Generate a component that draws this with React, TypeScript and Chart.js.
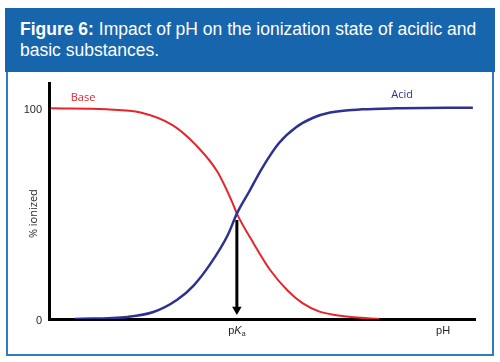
import React, { useEffect, useRef } from "react";
import { Chart, registerables } from "chart.js";

Chart.register(...registerables);

// ---- data ----
const basePH = [0.05, 1.35, 2.15, 2.9, 3.45, 3.95, 4.3, 4.41, 4.8, 5.2, 5.6, 5.95, 6.35, 6.75, 7.15, 7.75];
const baseIonized = [100, 99.5, 98, 92, 82.5, 70, 55.5, 50, 36, 23, 13.5, 7.5, 3.5, 1.8, 0.8, 0];
const acidPH = [0.6, 1.85, 2.45, 3.0, 3.4, 3.8, 4.2, 4.41, 4.7, 5.0, 5.4, 5.8, 6.2, 6.6, 7.35, 8.15, 9.95];
const acidIonized = [0, 1, 3.3, 9, 16, 26.5, 40, 50, 60.5, 71.5, 83.5, 91, 95.5, 98, 99.5, 100, 100.3];
const pKa = 4.41;
const arrowIonized = [47, 4.5];
const yTickValues = [0, 100];
const xTickLabels = [
  { value: pKa, text: "pKa" },
  { value: 9.25, text: "pH" },
];
const seriesLabels = [
  { text: "Base", x: 0.8, y: 105, color: "#e3262b" },
  { text: "Acid", x: 8.29, y: 106.6, color: "#2e3192" },
];

const RED = "#e8232a";
const NAVY = "#2e3192";

const annotations = {
  id: "annotations",
  afterDraw(chart: any) {
    const { ctx, scales, chartArea } = chart;
    const xs = scales.x;
    const ys = scales.y;
    ctx.save();
    ctx.textBaseline = "middle";
    ctx.textAlign = "center";
    ctx.font = "11px 'Open Sans', sans-serif";
    for (const l of seriesLabels) {
      ctx.fillStyle = l.color;
      ctx.fillText(l.text, xs.getPixelForValue(l.x), ys.getPixelForValue(l.y));
    }
    // y title
    ctx.save();
    ctx.translate(chartArea.left - 15, ys.getPixelForValue(50));
    ctx.rotate(-Math.PI / 2);
    ctx.fillStyle = "#231f20";
    ctx.font = "11px 'Open Sans', sans-serif";
    ctx.fillText("% ionized", 0, 0);
    ctx.restore();
    // x labels
    const ty = chartArea.bottom + 12;
    ctx.fillStyle = "#231f20";
    for (const t of xTickLabels) {
      const px = xs.getPixelForValue(t.value);
      if (t.text === "pKa") {
        ctx.textAlign = "left";
        ctx.font = "11px 'Liberation Sans', Arial, sans-serif";
        const wp = ctx.measureText("p").width;
        ctx.font = "italic 11px 'Liberation Sans', Arial, sans-serif";
        const wk = ctx.measureText("K").width;
        ctx.font = "7px 'Liberation Sans', Arial, sans-serif";
        const wa = ctx.measureText("a").width;
        let x0 = px - (wp + wk + wa) / 2;
        ctx.font = "11px 'Liberation Sans', Arial, sans-serif";
        ctx.fillText("p", x0, ty);
        x0 += wp;
        ctx.font = "italic 11px 'Liberation Sans', Arial, sans-serif";
        ctx.fillText("K", x0, ty);
        x0 += wk;
        ctx.font = "7px 'Liberation Sans', Arial, sans-serif";
        ctx.fillText("a", x0, ty + 3);
        ctx.textAlign = "center";
      } else {
        ctx.font = "11px 'Liberation Sans', Arial, sans-serif";
        ctx.fillText(t.text, px, ty);
      }
    }
    ctx.restore();
  },
};

function ChartView() {
  const ref = useRef<HTMLCanvasElement | null>(null);
  useEffect(() => {
    if (!ref.current) return;
    const chart = new Chart(ref.current, {
      type: "line",
      data: {
        datasets: [
          {
            label: "arrow",
            data: arrowIonized.map((v) => ({ x: pKa, y: v })),
            borderColor: "#000",
            backgroundColor: "#000",
            borderWidth: 3,
            pointRadius: [0, 5.5],
            pointStyle: "triangle",
            pointRotation: 180,
            pointBorderWidth: 0,
            pointBackgroundColor: "#000",
          },
          {
            label: "Acid",
            data: acidPH.map((x, i) => ({ x, y: acidIonized[i] })),
            borderColor: NAVY,
            borderWidth: 2.5,
            pointRadius: 0,
            cubicInterpolationMode: "monotone",
          },
          {
            label: "Base",
            data: basePH.map((x, i) => ({ x, y: baseIonized[i] })),
            borderColor: RED,
            borderWidth: 2,
            pointRadius: 0,
            cubicInterpolationMode: "monotone",
          },
        ],
      },
      options: {
        animation: false,
        responsive: true,
        maintainAspectRatio: false,
        layout: { padding: { left: 0, top: 83, right: 25, bottom: 0 } },
        plugins: { legend: { display: false }, tooltip: { enabled: false } },
        scales: {
          x: {
            type: "linear",
            min: 0,
            max: 10,
            grid: { display: false, drawTicks: false },
            border: { display: true, color: "#000", width: 3 },
            ticks: { display: false },
            afterFit: (s: any) => {
              s.height = 43;
            },
          },
          y: {
            type: "linear",
            min: 0,
            max: 112,
            grid: { display: false, drawTicks: false },
            border: { display: true, color: "#000", width: 3 },
            afterBuildTicks: (s: any) => {
              s.ticks = yTickValues.map((v) => ({ value: v }));
            },
            ticks: {
              padding: 7,
              labelOffset: 1.5,
              color: "#231f20",
              font: { family: "'Liberation Sans', Arial, sans-serif", size: 11 },
            },
            afterFit: (s: any) => {
              s.width = 49;
            },
          },
        },
      },
      plugins: [annotations],
    });
    return () => chart.destroy();
  }, []);
  return (
    <div style={{ position: "absolute", left: 0, top: 0, width: 500, height: 362 }}>
      <canvas ref={ref} />
    </div>
  );
}

export default function App() {
  return (
    <div
      style={{
        position: "absolute",
        left: 0,
        top: 0,
        width: 500,
        height: 362,
        background: "#fff",
        overflow: "hidden",
      }}
    >
      <div
        style={{
          position: "absolute",
          left: 5,
          top: 8,
          width: 490,
          height: 64,
          background: "#1766ad",
          color: "#fff",
          fontFamily: "'Liberation Sans', Arial, sans-serif",
          fontSize: 17.5,
          lineHeight: "21px",
          padding: "11px 0 0 15px",
          boxSizing: "border-box",
          whiteSpace: "nowrap",
        }}
      >
        <b>Figure 6:</b> Impact of pH on the ionization state of acidic and
        <br />
        basic substances.
      </div>
      <div
        style={{
          position: "absolute",
          left: 6,
          top: 72,
          width: 488,
          height: 284,
          border: "2px solid #2f7cc3",
          borderTop: "none",
          boxSizing: "border-box",
        }}
      />
      <ChartView />
    </div>
  );
}
